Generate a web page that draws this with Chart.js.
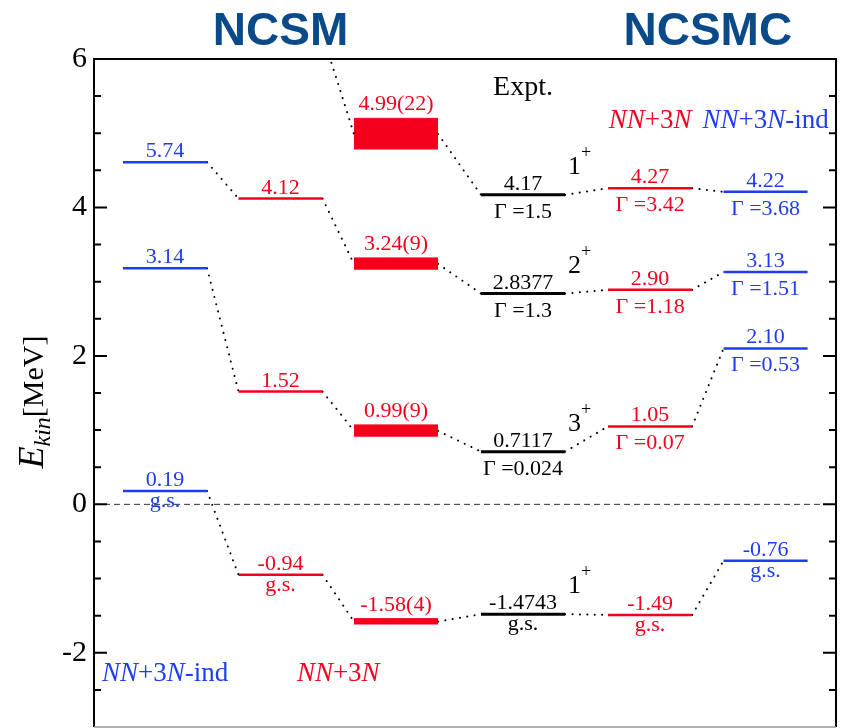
<!DOCTYPE html>
<html>
<head>
<meta charset="utf-8">
<script src="https://cdn.jsdelivr.net/npm/chart.js@4.4.1/dist/chart.umd.min.js"></script>
<style>
  html, body { margin: 0; padding: 0; background: #fff; }
  #wrap { width: 844px; height: 728px; }
</style>
</head>
<body>
<div id="wrap"><canvas id="levels"></canvas></div>
<script>
// columns of the level scheme, left to right
const columns = ['NCSM NN+3N-ind', 'NCSM NN+3N', 'NCSM NN+3N extrap.', 'Expt.', 'NCSMC NN+3N', 'NCSMC NN+3N-ind'];
const columnColors = ['#1e3cf2', '#f5001c', '#f5001c', '#000000', '#f5001c', '#1e3cf2'];

// energies as drawn [MeV], one array per state, one entry per column
const state1plus = [null, 6.33, 4.99, 4.17, 4.26, 4.21];
const state2plus = [4.61, 4.12, 3.24, 2.84, 2.89, 3.13];
const state3plus = [3.18, 1.52, 0.99, 0.71, 1.05, 2.10];
const stateGs    = [0.18, -0.95, -1.58, -1.48, -1.49, -0.76];
// uncertainty of the extrapolated NCSM column (same order as states)
const extrapErr = [0.21, 0.08, 0.08, 0.04];

// printed numbers above and below each level
const label1plus = [null, null, '4.99(22)', '4.17', '4.27', '4.22'];
const label2plus = ['5.74', '4.12', '3.24(9)', '2.8377', '2.90', '3.13'];
const label3plus = ['3.14', '1.52', '0.99(9)', '0.7117', '1.05', '2.10'];
const labelGs    = ['0.19', '-0.94', '-1.58(4)', '-1.4743', '-1.49', '-0.76'];
const sub1plus = [null, null, null, 'Γ =1.5', 'Γ =3.42', 'Γ =3.68'];
const sub2plus = [null, null, null, 'Γ =1.3', 'Γ =1.18', 'Γ =1.51'];
const sub3plus = [null, null, null, 'Γ =0.024', 'Γ =0.07', 'Γ =0.53'];
const subGs    = ['g.s.', 'g.s.', null, 'g.s.', 'g.s.', 'g.s.'];
const spins = ['1', '2', '3', '1'];

const yMajor = [-2, 0, 2, 4, 6];

// layout of the columns on the x axis
const slotX = [0, 1, 2, 3.1, 4.2, 5.2];
const halfW = 0.364;
const xMin = -0.615, xMax = 5.81;

const states = [
  {e: state1plus, top: label1plus, sub: sub1plus},
  {e: state2plus, top: label2plus, sub: sub2plus},
  {e: state3plus, top: label3plus, sub: sub3plus},
  {e: stateGs, top: labelGs, sub: subGs},
];

const SERIF = "'Liberation Serif', 'DejaVu Serif', serif";

const datasets = [];
// dashed zero line
datasets.push({data: [{x: xMin, y: 0}, {x: xMax, y: 0}], borderColor: '#333', borderWidth: 1, borderDash: [6, 4]});
states.forEach((s, k) => {
  s.e.forEach((e, i) => {
    if (e === null) return;
    const x0 = slotX[i] - halfW, x1 = slotX[i] + halfW;
    if (i === 2) {
      datasets.push({
        data: [{x: x0, y: e + extrapErr[k]}, {x: x1, y: e + extrapErr[k]}],
        borderColor: columnColors[i], borderWidth: 1,
        backgroundColor: columnColors[i], fill: {value: e - extrapErr[k]}
      });
    } else {
      datasets.push({
        data: [{x: x0, y: e}, {x: x1, y: e}],
        borderColor: columnColors[i], borderWidth: i === 3 ? 3 : 2.5
      });
    }
    const next = s.e[i + 1];
    if (next !== undefined && next !== null) {
      datasets.push({
        data: [{x: x1, y: e}, {x: slotX[i + 1] - halfW, y: next}],
        borderColor: '#000', borderWidth: 2, borderDash: [0.1, 7.3], borderCapStyle: 'round'
      });
    }
  });
});

// draws text made of runs with different fonts, centred on x
function drawRuns(ctx, x, y, runs, align) {
  let total = 0;
  runs.forEach(r => { ctx.font = r.font; total += ctx.measureText(r.t).width; });
  let cx = align === 'left' ? x : x - total / 2;
  ctx.textAlign = 'left';
  ctx.textBaseline = 'alphabetic';
  runs.forEach(r => {
    ctx.font = r.font;
    ctx.fillStyle = r.color;
    ctx.fillText(r.t, cx, y + (r.dy || 0));
    cx += ctx.measureText(r.t).width;
  });
}

function nnLabel(color, ind) {
  const it = 'italic 27px ' + SERIF, rm = '27px ' + SERIF;
  const runs = [{t: 'NN', font: it, color}, {t: '+3', font: rm, color}, {t: 'N', font: it, color}];
  if (ind) runs.push({t: '-ind', font: rm, color});
  return runs;
}

const decorations = {
  id: 'decorations',
  afterDatasetsDraw(chart) {
    const ctx = chart.ctx, xs = chart.scales.x, ys = chart.scales.y, a = chart.chartArea;
    ctx.save();

    // frame
    ctx.strokeStyle = '#000';
    ctx.lineWidth = 2;
    ctx.beginPath();
    ctx.moveTo(a.left, a.bottom); ctx.lineTo(a.left, a.top); ctx.lineTo(a.right, a.top); ctx.lineTo(a.right, a.bottom);
    ctx.stroke();
    ctx.strokeStyle = '#999'; ctx.lineWidth = 1.5;
    ctx.beginPath(); ctx.moveTo(a.left, a.bottom); ctx.lineTo(a.right, a.bottom); ctx.stroke();

    // inward ticks on both sides
    ctx.strokeStyle = '#000'; ctx.lineWidth = 2;
    ys.ticks.forEach(t => {
      const py = ys.getPixelForValue(t.value);
      if (py <= a.top + 1 || py >= a.bottom - 1) return;
      const len = yMajor.includes(t.value) ? 13 : 7;
      ctx.beginPath();
      ctx.moveTo(a.left, py); ctx.lineTo(a.left + len, py);
      ctx.moveTo(a.right, py); ctx.lineTo(a.right - len, py);
      ctx.stroke();
    });

    // level labels
    states.forEach((s, k) => {
      s.e.forEach((e, i) => {
        if (e === null || e > ys.max) return;
        const cx = xs.getPixelForValue(slotX[i]);
        const py = ys.getPixelForValue(e);
        ctx.textAlign = 'center';
        ctx.textBaseline = 'alphabetic';
        ctx.fillStyle = columnColors[i];
        ctx.font = '22px ' + SERIF;
        if (s.top[i]) {
          const ty = i === 2 ? ys.getPixelForValue(e + extrapErr[k]) - 8 : py - 5;
          ctx.fillText(s.top[i], cx, ty);
        }
        if (s.sub[i]) {
          const gs = s.sub[i] === 'g.s.';
          ctx.fillText(s.sub[i], cx, py + (gs ? 16 : 23));
        }
      });
      // spin-parity next to the experimental level
      const ex = xs.getPixelForValue(slotX[3] + halfW) + 3;
      const ey = ys.getPixelForValue(s.e[3]) - 21;
      drawRuns(ctx, ex, ey, [
        {t: spins[k], font: '26px ' + SERIF, color: '#000'},
        {t: '+', font: '18px ' + SERIF, color: '#000', dy: -16}
      ], 'left');
    });

    // column captions
    ctx.textAlign = 'center';
    ctx.fillStyle = '#000';
    ctx.font = '28px ' + SERIF;
    ctx.fillText('Expt.', xs.getPixelForValue(slotX[3]), a.top + 36);
    drawRuns(ctx, xs.getPixelForValue(slotX[4]), a.top + 69, nnLabel(columnColors[4], false));
    drawRuns(ctx, xs.getPixelForValue(slotX[5]), a.top + 69, nnLabel(columnColors[5], true));
    drawRuns(ctx, xs.getPixelForValue(slotX[0]), a.bottom - 46, nnLabel(columnColors[0], true));
    drawRuns(ctx, xs.getPixelForValue((slotX[1] + slotX[2]) / 2), a.bottom - 46, nnLabel(columnColors[1], false));

    // method headings
    ctx.textAlign = 'center';
    ctx.fillStyle = '#0b4a88';
    ctx.font = "bold 46px 'Liberation Sans', Arial, sans-serif";
    ctx.fillText('NCSM', xs.getPixelForValue(slotX[1]), 45);
    ctx.fillText('NCSMC', xs.getPixelForValue((slotX[4] + slotX[5]) / 2), 45);

    // y axis title
    ctx.translate(43, 402);
    ctx.rotate(-Math.PI / 2);
    drawRuns(ctx, 0, 0, [
      {t: 'E', font: 'italic 36px ' + SERIF, color: '#000'},
      {t: 'kin', font: 'italic 24px ' + SERIF, color: '#000', dy: 7},
      {t: '[MeV]', font: '30px ' + SERIF, color: '#000'}
    ]);
    ctx.restore();
  }
};

new Chart(document.getElementById('levels'), {
  type: 'line',
  data: {datasets},
  options: {
    responsive: true,
    maintainAspectRatio: false,
    animation: false,
    layout: {padding: {top: 59, right: 8, bottom: 1, left: 0}},
    elements: {point: {radius: 0}, line: {tension: 0}},
    plugins: {legend: {display: false}, tooltip: {enabled: false}},
    scales: {
      x: {type: 'linear', min: xMin, max: xMax, display: false},
      y: {
        min: -3, max: 6,
        grid: {display: false, drawTicks: false},
        border: {display: false},
        afterFit(scale) {
          scale.width = 94;
          scale.paddingTop = 0;
          scale.paddingBottom = 0;
        },
        ticks: {
          stepSize: 0.5, autoSkip: false, padding: 7, color: '#000',
          font: {family: SERIF, size: 30},
          callback: v => yMajor.includes(v) ? String(v) : ''
        }
      }
    }
  },
  plugins: [decorations]
});
</script>
</body>
</html>
